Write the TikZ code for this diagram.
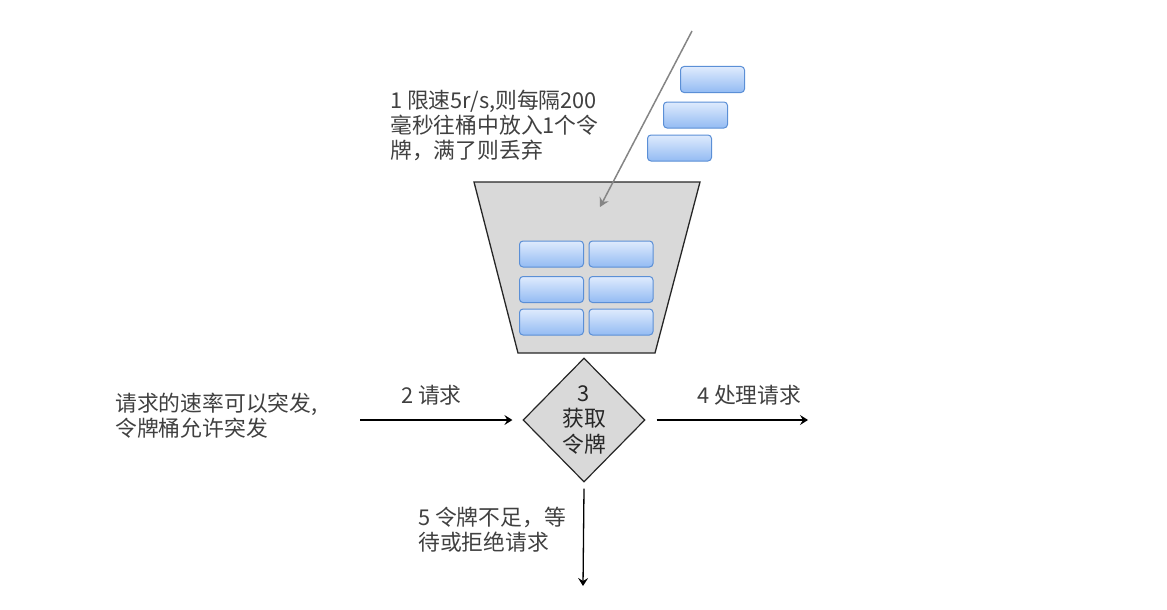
\documentclass[tikz,border=0pt]{standalone}
\usepackage{fontspec}
\setmainfont{Noto Sans CJK SC}
\usetikzlibrary{shapes.geometric,arrows.meta}
\definecolor{txt}{HTML}{404040}
\definecolor{bucketfill}{HTML}{D9D9D9}
\definecolor{tokline}{HTML}{5B8FD6}
\definecolor{toktop}{HTML}{DFEBFD}
\definecolor{tokbot}{HTML}{93BBF3}
\definecolor{feed}{HTML}{858585}
\tikzset{
  token/.style={rectangle, rounded corners=3.5pt, draw=tokline, line width=1pt,
    top color=toktop, bottom color=tokbot, minimum width=64pt, minimum height=26pt, inner sep=0pt},
  label text/.style={text=txt, font=\fontsize{21.8}{25}\selectfont, align=left, inner sep=0pt, anchor=north west},
  flow/.style={line width=1.3pt, -{Stealth[length=8pt,width=10pt,inset=3pt]}},
  decision/.style={shape=diamond, draw=black!85, line width=1.2pt, fill=bucketfill,
    minimum width=122pt, minimum height=124pt, inner sep=0pt, align=center,
    text=black!85, font=\fontsize{21.8}{25.5}\selectfont}
}
\begin{document}
\begin{tikzpicture}[x=1pt,y=-1pt]
\useasboundingbox (0,0) rectangle (1167,610);
% bucket
\coordinate (btl) at (474,182);
\coordinate (btr) at (700,182);
\coordinate (bbr) at (655,353);
\coordinate (bbl) at (518,353);
\draw[fill=bucketfill, draw=black!85, line width=1.3pt, line join=miter] (btl) -- (btr) -- (bbr) -- (bbl) -- cycle;
% tokens in bucket
\node[token] (t11) at (551.5,254) {};
\node[token] (t12) at (621,254) {};
\node[token] (t21) at (551.5,289.5) {};
\node[token] (t22) at (621,289.5) {};
\node[token] (t31) at (551.5,322) {};
\node[token] (t32) at (621,322) {};
% incoming tokens
\node[token] (n1) at (712.5,79.5) {};
\node[token] (n2) at (695.5,115) {};
\node[token] (n3) at (679.5,148) {};
% feed arrow
\coordinate (fs) at (692,31);
\coordinate (fe) at (600,207);
\draw[feed, line width=1.5pt, -{Stealth[length=9pt,width=10pt,inset=3pt]}] (fs) -- (fe);
% decision
\node[decision] (d) at (584,420) {3\\获取\\令牌};
% flows
\coordinate (in) at (360,420);
\coordinate (out) at (808,420);
\coordinate (down) at (583,586);
\draw[flow] (in) -- ([xshift=-10pt]d.west);
\draw[flow] ([xshift=11pt]d.east) -- (out);
\draw[flow] ([yshift=-6pt]d.south) -- (down);
% texts
\node[label text] (l1) at (390,90) {1 限速5r/s,则每隔200\\毫秒往桶中放入1个令\\牌，满了则丢弃};
\node[label text] (l0) at (115,393) {请求的速率可以突发,\\令牌桶允许突发};
\node[label text] (l2) at (401,385) {2 请求};
\node[label text] (l4) at (697,385) {4 处理请求};
\node[label text] (l5) at (418,507) {5 令牌不足，等\\待或拒绝请求};
\end{tikzpicture}
\end{document}
